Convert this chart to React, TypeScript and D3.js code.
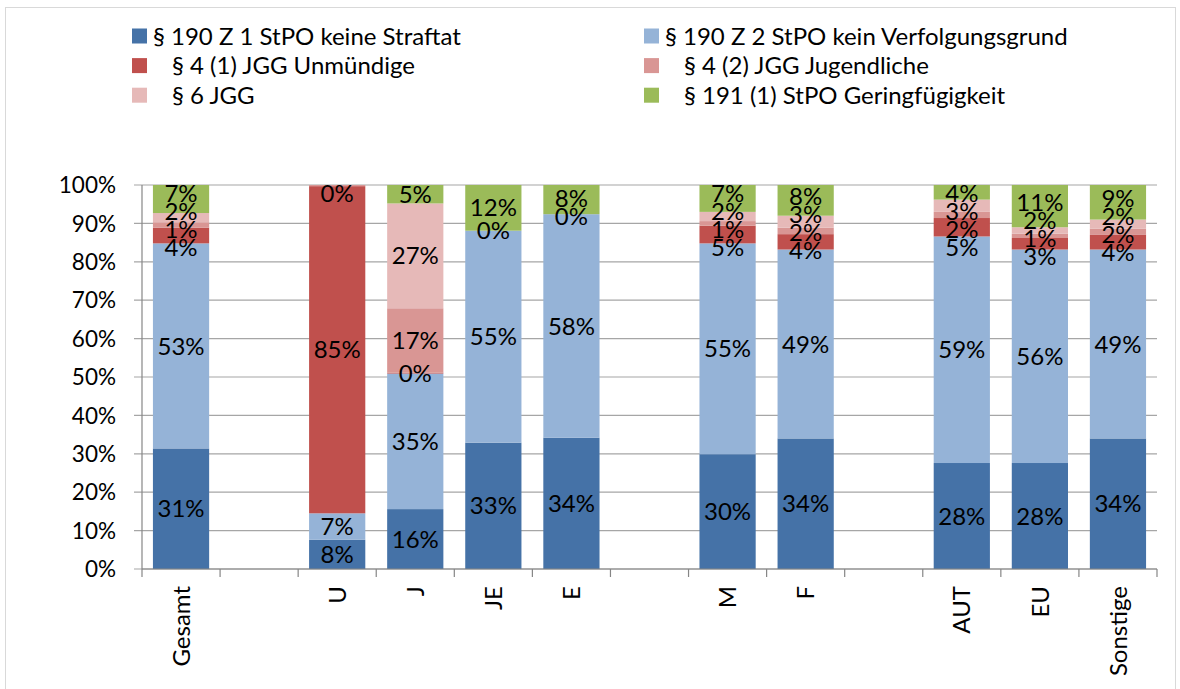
import { useEffect, useRef } from 'react';
import * as d3 from 'd3';

// categories (empty strings are the gaps between groups)
const categories = ['Gesamt', '', 'U', 'J', 'JE', 'E', '', 'M', 'F', '', 'AUT', 'EU', 'Sonstige'];

const seriesNames = [
  '§ 190 Z 1 StPO keine Straftat',
  '§ 190 Z 2 StPO kein Verfolgungsgrund',
  '§ 4 (1) JGG Unmündige',
  '§ 4 (2) JGG Jugendliche',
  '§ 6 JGG',
  '§ 191 (1) StPO Geringfügigkeit',
];
const seriesColors = ['#4572A7', '#95B3D7', '#C0504D', '#D99694', '#E6B9B8', '#9BBB59'];

// percentages per category (null = no value)
const z1 = [31.4, null, 7.6, 15.6, 32.9, 34.2, null, 29.9, 34.0, null, 27.6, 27.6, 34.0];
const z2 = [53.4, null, 6.9, 35.3, 55.2, 58.2, null, 54.9, 49.2, null, 59.0, 55.6, 49.2];
const jgg41 = [4.1, null, 85.2, 0.2, 0, 0, null, 4.6, 4.0, null, 4.8, 3.0, 3.8];
const jgg42 = [1.4, null, 0.3, 16.8, null, null, null, 1.2, 1.7, null, 1.6, 1.1, 1.6];
const jgg6 = [2.4, null, null, 27.3, null, null, null, 2.4, 3.1, null, 3.2, 1.7, 2.4];
const stpo191 = [7.3, null, null, 4.8, 11.9, 7.6, null, 7.0, 8.0, null, 3.8, 11.0, 9.0];

const seriesValues = [z1, z2, jgg41, jgg42, jgg6, stpo191];
const yTicks = [0, 0.1, 0.2, 0.3, 0.4, 0.5, 0.6, 0.7, 0.8, 0.9, 1];

const FONT = 'Lato, "Noto Sans", sans-serif';

const App = () => {
  const svgRef = useRef<SVGSVGElement>(null);

  useEffect(() => {
    const svg = d3.select(svgRef.current);
    svg.selectAll('*').remove();

    const width = 1180;
    const height = 689;
    const left = 142;
    const right = 1157;
    const top = 185;
    const bottom = 569;

    // chart frame
    svg.append('rect')
      .attr('x', 5.5).attr('y', 7.5)
      .attr('width', 1170).attr('height', 700)
      .attr('fill', 'white')
      .attr('stroke', '#d9d9d9');

    const keys = seriesNames.map((_, i) => `s${i}`);
    const rows = categories.map((c, ci) => {
      const row: any = { idx: ci, cat: c };
      keys.forEach((k, si) => {
        row[k] = seriesValues[si][ci];
      });
      return row;
    });

    const x = d3.scaleBand<number>()
      .domain(categories.map((_, i) => i))
      .range([left, right])
      .paddingInner(0.28)
      .paddingOuter(0.14);
    const y = d3.scaleLinear().domain([0, 1]).range([bottom, top]);

    const stack = d3.stack<any>()
      .keys(keys)
      .value((d, k) => d[k] ?? 0)
      .offset(d3.stackOffsetExpand);
    const stacked = stack(rows.filter(r => r.cat !== ''));

    // gridlines
    svg.append('g')
      .selectAll('line')
      .data(yTicks)
      .enter()
      .append('line')
      .attr('x1', left - 8).attr('x2', right)
      .attr('y1', d => y(d)).attr('y2', d => y(d))
      .attr('stroke', '#a6a6a6')
      .attr('stroke-width', 1.2);

    // y labels
    svg.append('g')
      .selectAll('text')
      .data(yTicks)
      .enter()
      .append('text')
      .attr('x', left - 26)
      .attr('y', d => y(d))
      .attr('dy', '0.36em')
      .attr('text-anchor', 'end')
      .attr('font-family', FONT)
      .attr('font-size', 22.5)
      .attr('fill', '#000')
      .text(d => d3.format('.0%')(d));

    // bars
    const layers = svg.append('g')
      .selectAll('g')
      .data(stacked)
      .enter()
      .append('g')
      .attr('fill', (_, i) => seriesColors[i]);

    layers.selectAll('rect')
      .data(d => d.filter(p => p.data[d.key] !== null))
      .enter()
      .append('rect')
      .attr('x', d => x(d.data.idx)!)
      .attr('width', x.bandwidth())
      .attr('y', d => y(d[1]))
      .attr('height', d => y(d[0]) - y(d[1]));

    // axes lines + ticks
    const axisColor = '#868686';
    svg.append('line')
      .attr('x1', left).attr('x2', left)
      .attr('y1', top).attr('y2', bottom)
      .attr('stroke', axisColor).attr('stroke-width', 1.2);
    svg.append('line')
      .attr('x1', left).attr('x2', right)
      .attr('y1', bottom).attr('y2', bottom)
      .attr('stroke', axisColor).attr('stroke-width', 1.2);
    const step = x.step();
    svg.append('g')
      .selectAll('line')
      .data(d3.range(categories.length + 1))
      .enter()
      .append('line')
      .attr('x1', i => left + i * step).attr('x2', i => left + i * step)
      .attr('y1', bottom).attr('y2', bottom + 8)
      .attr('stroke', axisColor).attr('stroke-width', 1.2);

    // x labels (rotated)
    svg.append('g')
      .selectAll('text')
      .data(rows.filter(r => r.cat !== ''))
      .enter()
      .append('text')
      .attr('transform', d => `translate(${x(d.idx)! + x.bandwidth() / 2},${bottom + 17}) rotate(-90)`)
      .attr('text-anchor', 'end')
      .attr('dy', '0.36em')
      .attr('font-family', FONT)
      .attr('font-size', 24)
      .attr('fill', '#000')
      .text(d => d.cat);

    // data labels with simple overlap relaxation per bar
    const labelGroup = svg.append('g');
    const gap = 18;
    const minY = top + 8;
    rows.filter(r => r.cat !== '').forEach(row => {
      const items: { y: number; text: string }[] = [];
      stacked.forEach(layer => {
        const v = row[layer.key];
        if (v === null || v === undefined) return;
        const p = layer.find(q => q.data.idx === row.idx)!;
        items.push({ y: (y(p[0]) + y(p[1])) / 2, text: `${Math.round(v)}%` });
      });
      items.sort((a, b) => a.y - b.y);
      for (let it = 0; it < 60; it++) {
        for (let i = 0; i < items.length - 1; i++) {
          const d = items[i + 1].y - items[i].y;
          if (d < gap) {
            const push = (gap - d) / 2;
            items[i].y -= push;
            items[i + 1].y += push;
          }
        }
        if (items.length && items[0].y < minY) {
          items[0].y = minY;
        }
      }
      items.forEach(item => {
        labelGroup.append('text')
          .attr('x', x(row.idx)! + x.bandwidth() / 2)
          .attr('y', item.y)
          .attr('dy', '0.36em')
          .attr('text-anchor', 'middle')
          .attr('font-family', FONT)
          .attr('font-size', 24)
          .attr('fill', '#000')
          .text(item.text);
      });
    });

    // legend: two columns, three rows
    const legend = svg.append('g');
    seriesNames.forEach((name, i) => {
      const col = i % 2;
      const row = Math.floor(i / 2);
      const sx = col === 0 ? 132 : 644;
      const cy = 36 + row * 29.6;
      legend.append('rect')
        .attr('x', sx).attr('y', cy - 7.5)
        .attr('width', 15).attr('height', 15)
        .attr('fill', seriesColors[i]);
      legend.append('text')
        .attr('x', sx + (row === 0 ? 21 : 40))
        .attr('y', cy)
        .attr('dy', '0.36em')
        .attr('font-family', FONT)
        .attr('font-size', 24)
        .attr('fill', '#000')
        .text(name);
    });

    svg.attr('width', width).attr('height', height);
  }, []);

  return (
    <svg
      ref={svgRef}
      width={1180}
      height={689}
      style={{ position: 'absolute', left: 0, top: 0, background: 'white' }}
    />
  );
};

export default App;
